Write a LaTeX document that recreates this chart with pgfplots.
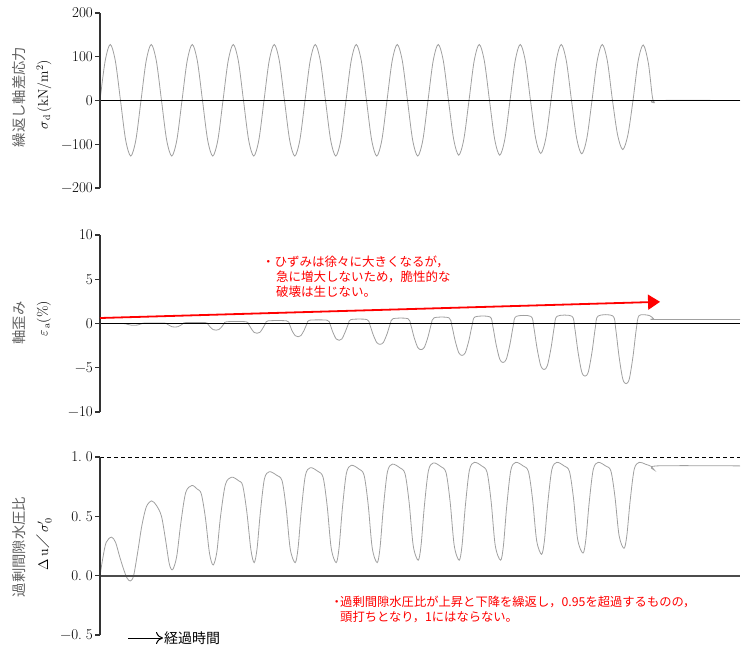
\RequirePackage{fix-cm}
\documentclass[border=0pt]{standalone}
\usepackage{fontspec}
\usepackage{pgfplots}
\pgfplotsset{compat=1.18}
\usetikzlibrary{arrows.meta}
\newfontfamily\jp{Noto Sans CJK JP}
\definecolor{curve}{HTML}{A0A0A0}
\definecolor{lblgray}{HTML}{606060}
\definecolor{annred}{HTML}{FF0000}
\pgfplotsset{
  panel/.style={
    width=640pt, scale only axis, anchor=south west,
    xmin=0, xmax=15.61,
    axis x line=none, axis y line=left,
    y axis line style={-, black!80, line width=1.8pt},
    xtick=\empty, ytick pos=left,
    tick align=outside, major tick length=5pt,
    major tick style={black!80, line width=1.2pt},
    yticklabel style={font=\fontsize{15}{15}\selectfont, inner sep=1pt, xshift=-1pt},
    clip=false,
  },
}
\begin{document}
\begin{tikzpicture}
\useasboundingbox (0pt,0pt) rectangle (744pt,-652pt);

% ---------------- Panel 1 ----------------
\begin{axis}[panel, at={(100pt,-188pt)}, height=175pt,
  ymin=-200, ymax=200, ytick={-200,-100,0,100,200},
  yticklabels={−200,−100,0,100,200}]
\addplot[curve, line width=0.8pt, smooth] coordinates {
(0,0)(0.125,90)(0.25,128)(0.375,90)(0.5,0)(0.625,-90)(0.75,-127)(0.875,-90)
(1,0)(1.125,90)(1.25,128)(1.375,90)(1.5,0)(1.625,-90)(1.75,-127)(1.875,-90)
(2,0)(2.125,90)(2.25,128)(2.375,90)(2.5,0)(2.625,-90)(2.75,-127)(2.875,-90)
(3,0)(3.125,90)(3.25,128)(3.375,90)(3.5,0)(3.625,-90)(3.75,-127)(3.875,-90)
(4,0)(4.125,90)(4.25,128)(4.375,90)(4.5,0)(4.625,-90)(4.75,-127)(4.875,-90)
(5,0)(5.125,90)(5.25,128)(5.375,90)(5.5,0)(5.625,-90)(5.75,-127)(5.875,-90)
(6,0)(6.125,90)(6.25,128)(6.375,90)(6.5,0)(6.625,-90)(6.75,-127)(6.875,-90)
(7,0)(7.125,90)(7.25,128)(7.375,90)(7.5,0)(7.625,-90)(7.75,-127)(7.875,-90)
(8,0)(8.125,90)(8.25,128)(8.375,90)(8.5,0)(8.625,-88)(8.75,-125)(8.875,-88)
(9,0)(9.125,90)(9.25,128)(9.375,90)(9.5,0)(9.625,-88)(9.75,-125)(9.875,-88)
(10,0)(10.125,90)(10.25,128)(10.375,90)(10.5,0)(10.625,-86)(10.75,-121)(10.875,-86)
(11,0)(11.125,90)(11.25,128)(11.375,90)(11.5,0)(11.625,-86)(11.75,-122)(11.875,-86)
(12,0)(12.125,90)(12.25,128)(12.375,90)(12.5,0)(12.625,-79)(12.75,-112)(12.875,-79)
(13,0)(13.125,90)(13.25,127)(13.375,85)(13.47,10)(13.52,-5)(13.58,0)(15.61,0)};
\addplot[black, line width=1.6pt] coordinates {(0,0)(15.61,0)};
\fill[black!80] ([xshift=-1pt]axis cs:0,-200) rectangle ([xshift=1pt]axis cs:0,200);
\fill[black!80] ([xshift=-5pt,yshift=-0.6pt]axis cs:0,-200) rectangle ([yshift=0.6pt]axis cs:0,-200);
\fill[black!80] ([xshift=-5pt,yshift=-0.6pt]axis cs:0,-100) rectangle ([yshift=0.6pt]axis cs:0,-100);
\fill[black!80] ([xshift=-5pt,yshift=-0.6pt]axis cs:0,0) rectangle ([yshift=0.6pt]axis cs:0,0);
\fill[black!80] ([xshift=-5pt,yshift=-0.6pt]axis cs:0,100) rectangle ([yshift=0.6pt]axis cs:0,100);
\fill[black!80] ([xshift=-5pt,yshift=-0.6pt]axis cs:0,200) rectangle ([yshift=0.6pt]axis cs:0,200);
\end{axis}

% ---------------- Panel 2 ----------------
\begin{axis}[panel, at={(100pt,-412pt)}, height=177pt,
  ymin=-10, ymax=10, ytick={-10,-5,0,5,10},
  yticklabels={−10,−5,0,5,10}]
\addplot[curve, line width=0.8pt, smooth] coordinates {
(0,0)(0.3,0.0)(0.57,0)(0.63,-0.04)(0.69,-0.12)(0.76,-0.186)(0.83,-0.2)(0.90,-0.183)(0.97,-0.10)(1.03,0.0)(1.09,0.05)
(1.57,0.05)(1.63,-0.04)(1.69,-0.22)(1.76,-0.37)(1.83,-0.4)(1.90,-0.365)(1.97,-0.2)(2.03,0.0)(2.09,0.1)
(2.57,0.1)(2.63,-0.07)(2.69,-0.41)(2.76,-0.69)(2.83,-0.75)(2.90,-0.68)(2.97,-0.37)(3.03,0.01)(3.09,0.2)
(3.56,0.2)(3.62,-0.06)(3.69,-0.58)(3.76,-1.01)(3.83,-1.1)(3.90,-1.0)(3.97,-0.54)(4.04,0.02)(4.10,0.3)
(4.55,0.3)(4.62,-0.06)(4.68,-0.78)(4.76,-1.37)(4.83,-1.5)(4.90,-1.37)(4.98,-0.75)(5.05,0.0)(5.11,0.37)
(5.54,0.37)(5.61,-0.08)(5.68,-0.99)(5.76,-1.74)(5.83,-1.9)(5.90,-1.74)(5.98,-0.96)(6.06,-0.02)(6.12,0.45)
(6.51,0.45)(6.58,-0.11)(6.66,-1.23)(6.75,-2.15)(6.83,-2.35)(6.91,-2.15)(7.0,-1.19)(7.08,-0.03)(7.15,0.55)
(7.51,0.55)(7.58,-0.15)(7.66,-1.55)(7.75,-2.71)(7.83,-2.95)(7.91,-2.70)(8.0,-1.51)(8.08,-0.07)(8.15,0.65)
(8.51,0.65)(8.58,-0.2)(8.66,-1.9)(8.75,-3.30)(8.83,-3.6)(8.91,-3.30)(9.0,-1.86)(9.08,-0.12)(9.15,0.75)
(9.51,0.75)(9.58,-0.28)(9.66,-2.34)(9.75,-4.04)(9.83,-4.4)(9.91,-4.04)(10.0,-2.32)(10.08,-0.24)(10.15,0.8)
(10.51,0.8)(10.58,-0.4)(10.66,-2.8)(10.75,-4.78)(10.83,-5.2)(10.91,-4.78)(11.0,-2.79)(11.08,-0.38)(11.15,0.82)
(11.51,0.82)(11.58,-0.53)(11.66,-3.24)(11.75,-5.48)(11.83,-5.95)(11.91,-5.47)(12.0,-3.23)(12.08,-0.51)(12.15,0.85)
(12.51,0.85)(12.58,-0.68)(12.66,-3.74)(12.75,-6.26)(12.83,-6.8)(12.91,-6.26)(13.0,-3.72)(13.08,-0.64)(13.15,0.9)
(13.4,0.9)(13.5,0.55)(13.58,0.45)(15.61,0.45)};
\addplot[black, line width=1.6pt] coordinates {(0,0)(15.61,0)};
\fill[black!80] ([xshift=-1pt]axis cs:0,-10) rectangle ([xshift=1pt]axis cs:0,10);
\fill[black!80] ([xshift=-5pt,yshift=-0.6pt]axis cs:0,-10) rectangle ([yshift=0.6pt]axis cs:0,-10);
\fill[black!80] ([xshift=-5pt,yshift=-0.6pt]axis cs:0,-5) rectangle ([yshift=0.6pt]axis cs:0,-5);
\fill[black!80] ([xshift=-5pt,yshift=-0.6pt]axis cs:0,0) rectangle ([yshift=0.6pt]axis cs:0,0);
\fill[black!80] ([xshift=-5pt,yshift=-0.6pt]axis cs:0,5) rectangle ([yshift=0.6pt]axis cs:0,5);
\fill[black!80] ([xshift=-5pt,yshift=-0.6pt]axis cs:0,10) rectangle ([yshift=0.6pt]axis cs:0,10);
\draw[annred, line width=1.8pt, -{Triangle[length=12pt,width=15pt]}] (axis cs:0,0.62) -- (axis cs:13.66,2.45);
\end{axis}

% ---------------- Panel 3 ----------------
\begin{axis}[panel, at={(100pt,-635pt)}, height=178pt,
  ymin=-0.5, ymax=1.0, ytick={-0.5,0,0.5,1},
  yticklabels={−0.\hspace{4pt}5,0.\hspace{4pt}0,0.\hspace{4pt}5,1.\hspace{4pt}0}]
\addplot[curve, line width=0.8pt, smooth] coordinates {
(0,0)(0.07,0.15)(0.15,0.28)(0.28,0.325)(0.38,0.28)(0.48,0.16)(0.58,0.05)(0.66,-0.02)(0.74,-0.045)
(0.82,0.0)(0.92,0.2)(1.02,0.42)(1.13,0.58)(1.26,0.63)(1.38,0.59)(1.5,0.5)(1.6,0.3)(1.69,0.1)(1.77,0.05)
(1.87,0.16)(1.97,0.44)(2.09,0.70)(2.24,0.76)(2.37,0.73)(2.47,0.69)(2.57,0.49)(2.67,0.19)(2.76,0.09)
(2.85,0.20)(2.94,0.50)(3.06,0.77)(3.21,0.83)(3.38,0.80)(3.48,0.76)(3.58,0.54)(3.68,0.22)(3.76,0.11)
(3.83,0.225)(3.91,0.53)(4.01,0.815)(4.13,0.876)(4.31,0.846)(4.44,0.80)(4.54,0.57)(4.64,0.225)(4.76,0.11)
(4.83,0.23)(4.91,0.55)(5.01,0.846)(5.13,0.91)(5.31,0.88)(5.44,0.83)(5.54,0.59)(5.64,0.23)(5.76,0.11)
(5.83,0.233)(5.91,0.561)(6.01,0.864)(6.13,0.93)(6.31,0.90)(6.44,0.848)(6.54,0.602)(6.64,0.233)(6.76,0.11)
(6.83,0.235)(6.91,0.567)(7.01,0.874)(7.13,0.94)(7.31,0.91)(7.44,0.859)(7.54,0.616)(7.64,0.252)(7.76,0.13)
(7.83,0.253)(7.91,0.581)(8.01,0.884)(8.13,0.95)(8.31,0.92)(8.44,0.868)(8.54,0.622)(8.64,0.253)(8.76,0.13)
(8.83,0.254)(8.91,0.584)(9.01,0.889)(9.13,0.955)(9.31,0.925)(9.44,0.872)(9.54,0.625)(9.64,0.254)(9.77,0.13)
(9.84,0.254)(9.92,0.584)(10.02,0.889)(10.14,0.955)(10.32,0.925)(10.45,0.877)(10.55,0.645)(10.65,0.296)(10.77,0.18)
(10.84,0.296)(10.92,0.606)(11.02,0.893)(11.14,0.955)(11.32,0.925)(11.45,0.878)(11.55,0.649)(11.65,0.305)(11.78,0.19)
(11.85,0.305)(11.93,0.611)(12.03,0.894)(12.15,0.955)(12.33,0.925)(12.46,0.883)(12.56,0.665)(12.66,0.339)(12.78,0.23)
(12.85,0.339)(12.93,0.629)(13.03,0.897)(13.15,0.955)(13.3,0.94)(13.45,0.92)(13.52,0.89)(13.58,0.925)(15.61,0.925)};
\addplot[black!70, line width=2pt] coordinates {(0,0)(15.61,0)};
\addplot[black, line width=0.8pt, dash pattern=on 4pt off 3pt] coordinates {(0,1)(15.61,1)};
\fill[black!80] ([xshift=-1pt]axis cs:0,-0.5) rectangle ([xshift=1pt]axis cs:0,1);
\fill[black!80] ([xshift=-5pt,yshift=-0.6pt]axis cs:0,-0.5) rectangle ([yshift=0.6pt]axis cs:0,-0.5);
\fill[black!80] ([xshift=-5pt,yshift=-0.6pt]axis cs:0,0) rectangle ([yshift=0.6pt]axis cs:0,0);
\fill[black!80] ([xshift=-5pt,yshift=-0.6pt]axis cs:0,0.5) rectangle ([yshift=0.6pt]axis cs:0,0.5);
\fill[black!80] ([xshift=-5pt,yshift=-0.6pt]axis cs:0,1) rectangle ([yshift=0.6pt]axis cs:0,1);
\end{axis}

% ---------------- Labels ----------------
\node[rotate=90, text=lblgray, font=\jp\fontsize{14.3}{16}\selectfont, inner sep=0] at (19pt,-97pt) {繰返し軸差応力};
\node[rotate=90, font=\fontsize{14}{16}\selectfont, inner sep=0] at (44pt,-95pt) {$\sigma_{\,\mathrm{d}}$\,(kN/m$^{2}$)};
\node[rotate=90, text=lblgray, font=\jp\fontsize{14.3}{16}\selectfont, inner sep=0] at (19pt,-323pt) {軸歪み};
\node[rotate=90, font=\fontsize{14}{16}\selectfont, inner sep=0] at (44pt,-319pt) {$\varepsilon_{\,\mathrm{a}}$(\%)};
\node[rotate=90, text=lblgray, font=\jp\fontsize{14.3}{16}\selectfont, inner sep=0] at (19pt,-547pt) {過剰間隙水圧比};
\node[rotate=90, font=\fontsize{14}{16}\selectfont, inner sep=0] at (44pt,-544pt) {$\Delta$\,u{\jp ／}\,$\sigma'_{\,0}$};

% ---------------- Annotations ----------------
\node[anchor=west, text=annred, font=\jp\fontsize{12.5}{15}\selectfont, inner sep=0] at (262pt,-262pt) {・ひずみは徐々に大きくなるが，};
\node[anchor=west, text=annred, font=\jp\fontsize{12.5}{15}\selectfont, inner sep=0] at (276pt,-277pt) {急に増大しないため，脆性的な};
\node[anchor=west, text=annred, font=\jp\fontsize{12.5}{15}\selectfont, inner sep=0] at (276pt,-292pt) {破壊は生じない。};
\node[anchor=west, text=annred, font=\jp\fontsize{12.3}{15}\selectfont, inner sep=0] at (333pt,-602pt) {\makebox[7pt][c]{・}過剰間隙水圧比が上昇と下降を繰返し，0.95を超過するものの，};
\node[anchor=west, text=annred, font=\jp\fontsize{12.3}{15}\selectfont, inner sep=0] at (340pt,-617pt) {頭打ちとなり，1にはならない。};

\draw[black, line width=1pt, -{To[length=7pt,width=12pt]}] (128pt,-638pt) -- (163pt,-638pt);
\node[anchor=west, font=\jp\fontsize{14}{16}\selectfont, inner sep=0] at (164pt,-638pt) {経過時間};
\end{tikzpicture}
\end{document}
